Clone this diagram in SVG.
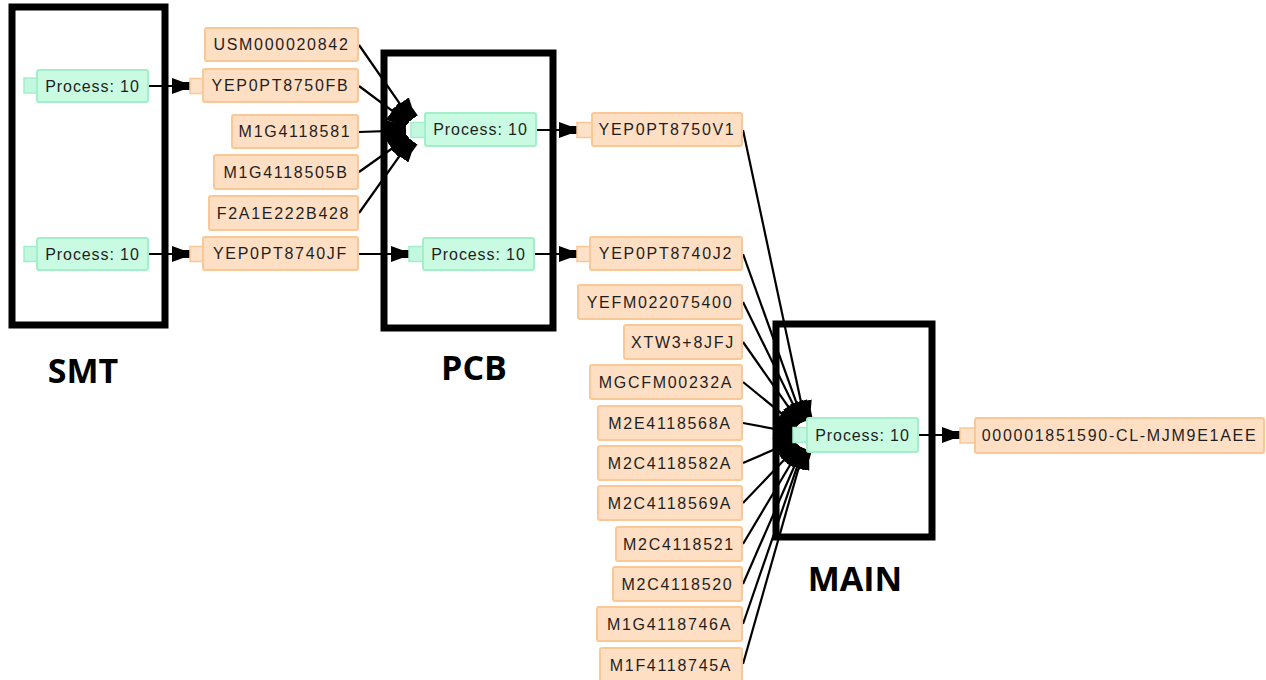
<svg xmlns="http://www.w3.org/2000/svg" width="1266" height="680" viewBox="0 0 1266 680">
  <style>
    .frame { fill: none; stroke: #000; stroke-width: 7; }
    .zone { font-family: "Open Sans", "Liberation Sans", sans-serif; font-weight: 700; font-size: 34px; fill: #000; text-anchor: middle; }
    .proc { fill: #c9fbe3; stroke: #a2efca; stroke-width: 2; }
    .proc-port { fill: #c4f7df; stroke: #a2efca; stroke-width: 1.5; }
    .part { fill: #fedfc3; stroke: #f9c894; stroke-width: 2; }
    .part-port { fill: #fde1c8; stroke: #f9c894; stroke-width: 1.5; }
    .label { font-family: "Liberation Sans", Arial, sans-serif; font-size: 16px; fill: #1e1e1e; text-anchor: middle; dominant-baseline: central; letter-spacing: 1.7px; }
    .label.p { letter-spacing: 0.9px; }
    .edge { stroke: #000; stroke-width: 2.2; fill: none; marker-end: url(#arrow); }
    .fan { stroke: #000; stroke-width: 2.2; fill: none; marker-end: url(#arrow-fan); }
  </style>
  <defs>
    <marker id="arrow" viewBox="0 0 18 16" refX="18" refY="8" markerWidth="18" markerHeight="16" markerUnits="userSpaceOnUse" orient="auto">
      <path d="M0,0 L11,4 L18,4 L18,12 L11,12 L0,16 Z" fill="#000"/>
    </marker>
    <!-- wider head for converging inputs, heads overlap into a solid crescent -->
    <marker id="arrow-fan" viewBox="0 0 20 22" refX="20" refY="11" markerWidth="20" markerHeight="22" markerUnits="userSpaceOnUse" orient="auto">
      <path d="M0,0 L10,3 L20,3 L20,19 L10,19 L0,22 Z" fill="#000"/>
    </marker>
  </defs>
  <rect width="1266" height="680" fill="#fff"/>

  <!-- stage frames -->
  <g id="stages">
    <g id="stage-smt">
      <rect class="frame" x="12" y="7" width="153" height="318"/>
      <text class="zone" x="83" y="383">SMT</text>
    </g>
    <g id="stage-pcb">
      <rect class="frame" x="384" y="53" width="169" height="275"/>
      <text class="zone" x="474" y="380">PCB</text>
    </g>
    <g id="stage-main">
      <rect class="frame" x="776" y="324" width="156" height="213"/>
      <text class="zone" x="855" y="591">MAIN</text>
    </g>
  </g>

  <!-- connectors -->
  <g id="connectors">
    <line class="edge" x1="148" y1="86" x2="190" y2="86"/>
    <line class="edge" x1="148" y1="254" x2="190" y2="254"/>
    <line class="edge" x1="359" y1="254" x2="409" y2="254"/>
    <line class="fan" x1="359" y1="45" x2="411.2" y2="120.1"/>
    <line class="fan" x1="359" y1="86" x2="408.4" y2="122.8"/>
    <line class="fan" x1="359" y1="132" x2="406" y2="130.4"/>
    <line class="fan" x1="359" y1="172" x2="408.2" y2="137"/>
    <line class="fan" x1="359" y1="213" x2="411" y2="139.8"/>
    <line class="edge" x1="537" y1="130" x2="577" y2="130"/>
    <line class="edge" x1="535" y1="254" x2="577" y2="254"/>
    <line class="fan" x1="743" y1="130" x2="805.1" y2="421.3"/>
    <line class="fan" x1="743" y1="254" x2="803.3" y2="421.8"/>
    <line class="fan" x1="743" y1="302" x2="801.9" y2="422.4"/>
    <line class="fan" x1="743" y1="342" x2="800" y2="423.5"/>
    <line class="fan" x1="743" y1="382" x2="797.2" y2="426.2"/>
    <line class="fan" x1="743" y1="423" x2="794.2" y2="432.5"/>
    <line class="fan" x1="743" y1="463" x2="795.1" y2="440.5"/>
    <line class="fan" x1="743" y1="503" x2="798.3" y2="445.1"/>
    <line class="fan" x1="743" y1="544" x2="800.8" y2="447"/>
    <line class="fan" x1="743" y1="584" x2="802.4" y2="447.8"/>
    <line class="fan" x1="743" y1="624" x2="803.5" y2="448.2"/>
    <line class="fan" x1="743" y1="664" x2="804.2" y2="448.5"/>
    <line class="edge" x1="919" y1="435" x2="960" y2="435"/>
  </g>

  <!-- process steps -->
  <g id="smt-process-1">
    <rect class="proc-port" x="24" y="78" width="13" height="15"/>
    <rect class="proc" x="37" y="70" width="111" height="32" rx="2"/>
    <text class="label p" x="92.5" y="86">Process: 10</text>
  </g>
  <g id="smt-process-2">
    <rect class="proc-port" x="24" y="246.5" width="13" height="15"/>
    <rect class="proc" x="37" y="238" width="111" height="32" rx="2"/>
    <text class="label p" x="92.5" y="254">Process: 10</text>
  </g>
  <g id="pcb-process-1">
    <rect class="proc-port" x="411" y="122.5" width="14" height="15"/>
    <rect class="proc" x="425" y="113" width="111" height="33" rx="2"/>
    <text class="label p" x="480.5" y="129.5">Process: 10</text>
  </g>
  <g id="pcb-process-2">
    <rect class="proc-port" x="409" y="246.5" width="14" height="15"/>
    <rect class="proc" x="423" y="238" width="111" height="32" rx="2"/>
    <text class="label p" x="478.5" y="254">Process: 10</text>
  </g>
  <g id="main-process">
    <rect class="proc-port" x="793" y="427.5" width="14" height="15"/>
    <rect class="proc" x="807" y="418" width="111" height="34" rx="2"/>
    <text class="label p" x="862.5" y="435">Process: 10</text>
  </g>

  <!-- parts -->
  <g id="part-usm000020842">
    <rect class="part" x="205" y="28" width="153" height="33" rx="2"/>
    <text class="label" x="281.5" y="44.5">USM000020842</text>
  </g>
  <g id="part-yep0pt8750fb">
    <rect class="part-port" x="190" y="78.5" width="13" height="15"/>
    <rect class="part" x="203" y="69" width="155" height="33" rx="2"/>
    <text class="label" x="280.5" y="85.5">YEP0PT8750FB</text>
  </g>
  <g id="part-m1g4118581">
    <rect class="part" x="232" y="115" width="126" height="33" rx="2"/>
    <text class="label" x="295" y="131.5">M1G4118581</text>
  </g>
  <g id="part-m1g4118505b">
    <rect class="part" x="214" y="155" width="144" height="34" rx="2"/>
    <text class="label" x="286" y="172">M1G4118505B</text>
  </g>
  <g id="part-f2a1e222b428">
    <rect class="part" x="209" y="196" width="149" height="34" rx="2"/>
    <text class="label" x="283.5" y="213">F2A1E222B428</text>
  </g>
  <g id="part-yep0pt8740jf">
    <rect class="part-port" x="190" y="246.5" width="13" height="15"/>
    <rect class="part" x="203" y="237" width="155" height="33" rx="2"/>
    <text class="label" x="280.5" y="253.5">YEP0PT8740JF</text>
  </g>
  <g id="part-yep0pt8750v1">
    <rect class="part-port" x="577" y="122.5" width="15" height="15"/>
    <rect class="part" x="592" y="113" width="150" height="33" rx="2"/>
    <text class="label" x="667" y="129.5">YEP0PT8750V1</text>
  </g>
  <g id="part-yep0pt8740j2">
    <rect class="part-port" x="577" y="246.5" width="13" height="15"/>
    <rect class="part" x="590" y="237" width="152" height="33" rx="2"/>
    <text class="label" x="666" y="253.5">YEP0PT8740J2</text>
  </g>
  <g id="part-yefm022075400">
    <rect class="part" x="578" y="285" width="164" height="34" rx="2"/>
    <text class="label" x="660" y="302">YEFM022075400</text>
  </g>
  <g id="part-xtw3-8jfj">
    <rect class="part" x="624" y="325" width="118" height="34" rx="2"/>
    <text class="label" x="683" y="342">XTW3+8JFJ</text>
  </g>
  <g id="part-mgcfm00232a">
    <rect class="part" x="590" y="365" width="152" height="34" rx="2"/>
    <text class="label" x="666" y="382">MGCFM00232A</text>
  </g>
  <g id="part-m2e4118568a">
    <rect class="part" x="598" y="406" width="144" height="34" rx="2"/>
    <text class="label" x="670" y="423">M2E4118568A</text>
  </g>
  <g id="part-m2c4118582a">
    <rect class="part" x="598" y="446" width="144" height="34" rx="2"/>
    <text class="label" x="670" y="463">M2C4118582A</text>
  </g>
  <g id="part-m2c4118569a">
    <rect class="part" x="598" y="486" width="144" height="34" rx="2"/>
    <text class="label" x="670" y="503">M2C4118569A</text>
  </g>
  <g id="part-m2c4118521">
    <rect class="part" x="616" y="527" width="126" height="34" rx="2"/>
    <text class="label" x="679" y="544">M2C4118521</text>
  </g>
  <g id="part-m2c4118520">
    <rect class="part" x="613" y="567" width="129" height="34" rx="2"/>
    <text class="label" x="677.5" y="584">M2C4118520</text>
  </g>
  <g id="part-m1g4118746a">
    <rect class="part" x="597" y="607" width="145" height="34" rx="2"/>
    <text class="label" x="669.5" y="624">M1G4118746A</text>
  </g>
  <g id="part-m1f4118745a">
    <rect class="part" x="600" y="648" width="142" height="34" rx="2"/>
    <text class="label" x="671" y="665">M1F4118745A</text>
  </g>
  <g id="part-000001851590-cl-mjm9e1aee">
    <rect class="part-port" x="960" y="428" width="15" height="15"/>
    <rect class="part" x="975" y="418" width="289" height="35" rx="2"/>
    <text class="label" x="1119.5" y="435.5">000001851590-CL-MJM9E1AEE</text>
  </g>
</svg>
